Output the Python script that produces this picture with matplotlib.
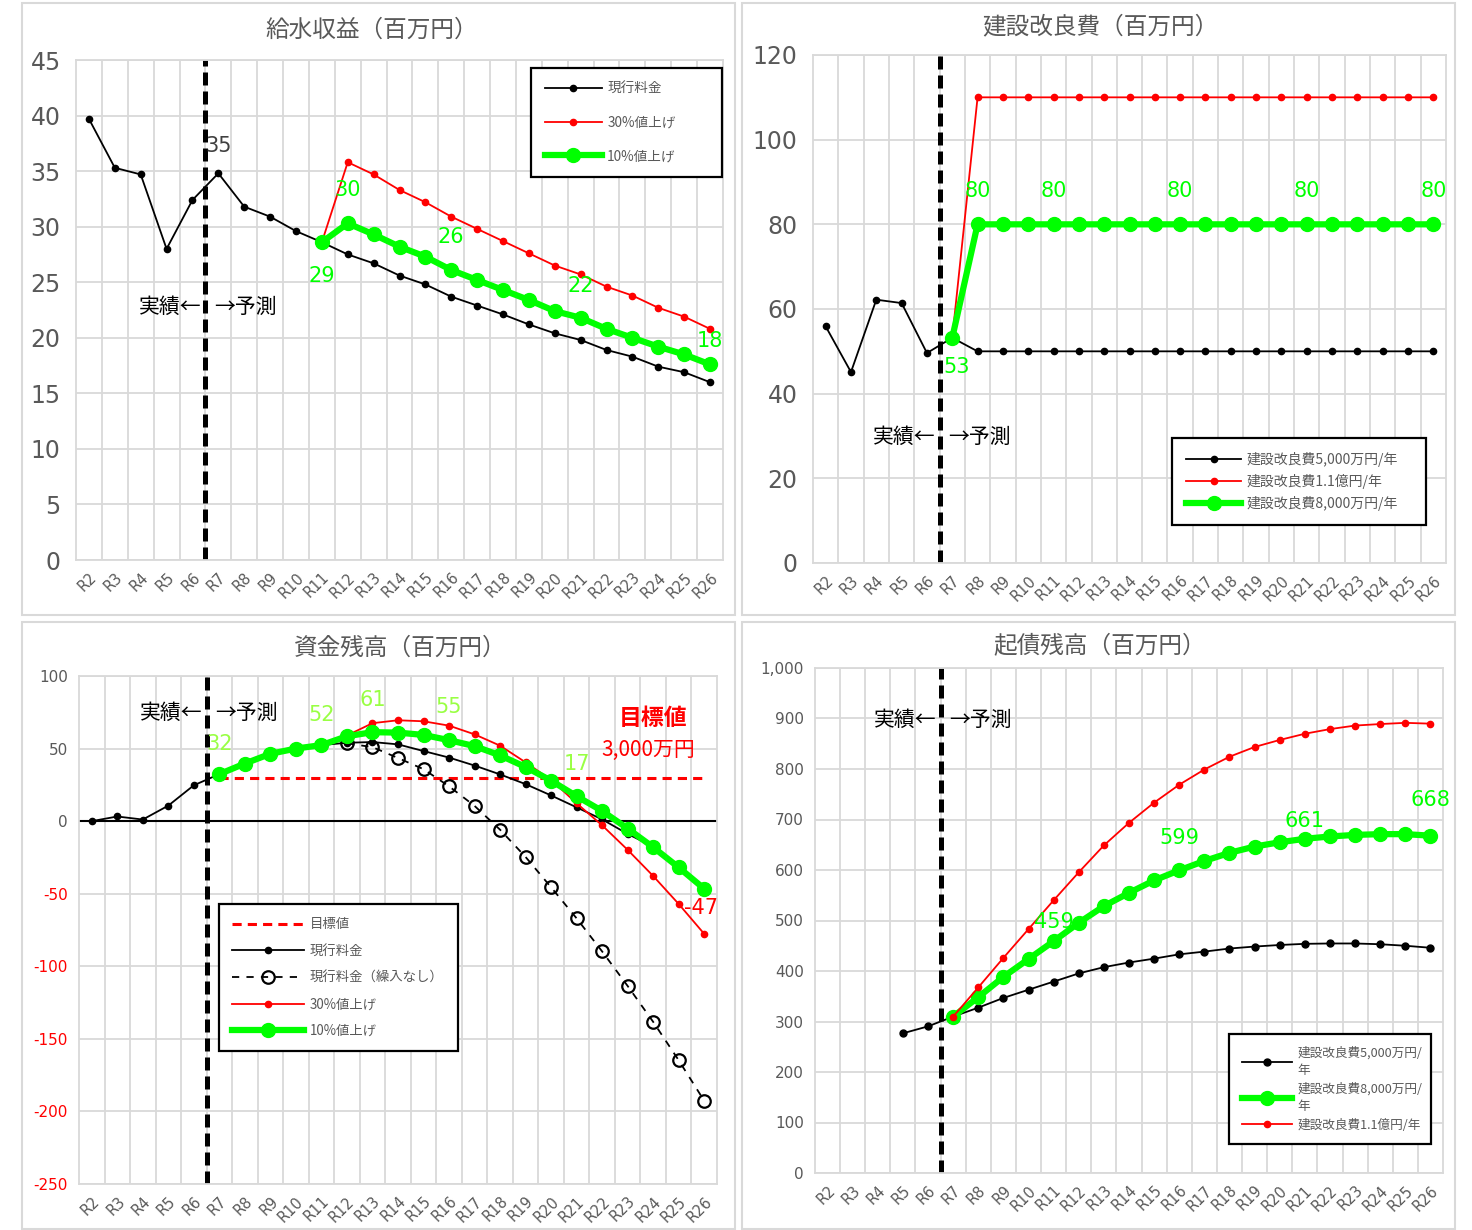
import numpy as np
import matplotlib
matplotlib.use('Agg')
import matplotlib.pyplot as plt
from matplotlib.patches import Rectangle
from matplotlib.ticker import FuncFormatter

plt.rcParams['font.family'] = ['Noto Sans CJK JP', 'DejaVu Sans']
plt.rcParams['axes.unicode_minus'] = False

####### input data ######
nan = np.nan
cats = ['R2', 'R3', 'R4', 'R5', 'R6', 'R7', 'R8', 'R9', 'R10', 'R11', 'R12', 'R13', 'R14',
        'R15', 'R16', 'R17', 'R18', 'R19', 'R20', 'R21', 'R22', 'R23', 'R24', 'R25', 'R26']

# 給水収益
rev_current = [39.7, 35.3, 34.7, 28.0, 32.4, 34.8, 31.8, 30.9, 29.6, 28.6, 27.5, 26.7, 25.6,
               24.8, 23.7, 22.9, 22.1, 21.2, 20.4, 19.8, 18.9, 18.3, 17.4, 16.9, 16.0]
rev_up30 = [nan, nan, nan, nan, nan, nan, nan, nan, nan, 28.6, 35.8, 34.7, 33.3,
            32.2, 30.9, 29.8, 28.7, 27.6, 26.5, 25.7, 24.6, 23.8, 22.7, 21.9, 20.8]
rev_up10 = [nan, nan, nan, nan, nan, nan, nan, nan, nan, 28.6, 30.3, 29.3, 28.2,
            27.3, 26.1, 25.2, 24.3, 23.4, 22.4, 21.8, 20.8, 20.0, 19.2, 18.5, 17.6]

# 建設改良費
cap_50m = [55.9, 45.1, 62.2, 61.4, 49.6, 53.2, 50, 50, 50, 50, 50, 50, 50,
           50, 50, 50, 50, 50, 50, 50, 50, 50, 50, 50, 50]
cap_110m = [nan, nan, nan, nan, nan, 53.2, 110, 110, 110, 110, 110, 110, 110,
            110, 110, 110, 110, 110, 110, 110, 110, 110, 110, 110, 110]
cap_80m = [nan, nan, nan, nan, nan, 53.2, 80, 80, 80, 80, 80, 80, 80,
           80, 80, 80, 80, 80, 80, 80, 80, 80, 80, 80, 80]

# 資金残高
fund_target = [nan, nan, nan, nan, nan, 30, 30, 30, 30, 30, 30, 30, 30,
               30, 30, 30, 30, 30, 30, 30, 30, 30, 30, 30, 30]
fund_current = [0, 3.2, 1.1, 10.7, 24.7, 32.4, 39.7, 46.4, 50.0, 52.4, 54.0, 54.5, 52.9,
                48.3, 43.8, 38.3, 32.2, 25.5, 17.7, 9.5, 1.2, -8.8, -17.6, -31.5, -46.0]
fund_noinflow = [nan, nan, nan, nan, nan, nan, nan, nan, nan, nan, 53.6, 51.0, 43.5,
                 35.8, 24.0, 10.5, -5.9, -24.7, -45.6, -67.0, -89.8, -113.6, -138.3, -164.8, -192.7]
fund_up30 = [nan, nan, nan, nan, nan, 32.4, 39.7, 46.4, 50.0, 52.4, 59.0, 67.5, 69.5,
             68.8, 65.8, 59.8, 52.0, 40.5, 28.4, 12.3, -2.9, -19.8, -37.8, -57.1, -77.7]
fund_up10 = [nan, nan, nan, nan, nan, 32.4, 39.7, 46.4, 50.0, 52.4, 58.5, 61.3, 61.0,
             59.4, 55.8, 51.7, 45.3, 37.3, 27.9, 17.2, 7.0, -5.1, -18.0, -31.9, -46.6]

# 起債残高
bond_50m = [nan, nan, nan, 276.6, 290.4, 309.7, 327.4, 346.7, 362.9, 379.0, 395.2, 407.6, 416.8,
            424.5, 433.0, 438.4, 444.5, 448.4, 451.5, 453.8, 454.5, 454.5, 453.0, 450.0, 446.0]
bond_80m = [nan, nan, nan, nan, nan, 309.7, 348.2, 388.3, 423.7, 459.0, 495.4, 528.5, 554.7,
            579.4, 599.4, 617.9, 634.0, 646.4, 654.9, 661.8, 666.4, 669.5, 671.0, 671.0, 668.0]
bond_110m = [nan, nan, nan, nan, nan, 309.7, 367.5, 426.0, 483.0, 540.0, 595.5, 648.7, 693.4,
             733.4, 768.9, 799.0, 824.3, 843.6, 857.5, 869.8, 879.0, 886.0, 889.0, 891.4, 889.8]
################### end input ###############

W, H = 1472, 1230
x = np.arange(len(cats))
GRID = '#D9D9D9'
TXT = '#595959'
GREEN = '#00FF00'
LBLFONT = ['Liberation Sans Narrow', 'DejaVu Sans']

fig = plt.figure(figsize=(W / 100, H / 100), dpi=100)


def px(l, t, r, b):
    return [l / W, 1 - b / H, (r - l) / W, (b - t) / H]


# chart area borders
for l, t, r, b in [(22, 3, 735, 615), (742, 3, 1455, 615), (22, 622, 735, 1229), (742, 622, 1455, 1229)]:
    fig.add_artist(Rectangle((l / W, 1 - b / H), (r - l) / W, (b - t) / H, transform=fig.transFigure,
                             fill=False, edgecolor=GRID, lw=1.5))


def setup(rect, ymin, ymax, ystep, ysize, ypad, title, title_xy):
    ax = fig.add_axes(px(*rect))
    ax.set_xlim(-0.5, len(cats) - 0.5)
    ax.set_ylim(ymin, ymax)
    ax.set_yticks(np.arange(ymin, ymax + ystep / 2, ystep))
    ax.set_xticks(x)
    ax.set_xticklabels(cats, rotation=45, ha='right', rotation_mode='anchor')
    ax.set_xticks(x[:-1] + 0.5, minor=True)
    ax.tick_params(axis='both', which='both', length=0)
    ax.tick_params(axis='x', labelsize=10.5, colors=TXT, pad=7)
    ax.tick_params(axis='y', labelsize=ysize, colors=TXT, pad=ypad)
    for t in ax.get_xticklabels() + ax.get_yticklabels():
        t.set_fontfamily('DejaVu Sans')
    ax.grid(axis='y', which='major', color=GRID, lw=1.3)
    ax.grid(axis='x', which='minor', color=GRID, lw=1.3)
    ax.set_axisbelow(True)
    for s in ax.spines.values():
        s.set_color(GRID)
        s.set_linewidth(1.3)
    ax.axvline(4.5, color='black', lw=3.6, ls=(0, (2.6, 1.2)), zorder=1.8)
    fig.text(title_xy[0] / W, 1 - title_xy[1] / H, title, ha='center', va='center',
             fontsize=17, color=TXT)
    return ax


def actual_forecast(ax, y, size=15):
    ax.text(4.35, y, '実績←', ha='right', va='center', fontsize=size, color='black')
    ax.text(4.85, y, '→予測', ha='left', va='center', fontsize=size, color='black')


def label(ax, i, v, txt, dy, color=GREEN, dx=0, size=15):
    ax.annotate(txt, (x[i], v), xytext=(dx, dy), textcoords='offset points',
                ha='center', va='center', fontsize=size, color=color, family=LBLFONT)


def legend(ax, handles, labels, box, fs, hl, spacing, linesp=1.2):
    l, t, r, b = box
    leg = ax.legend(handles, labels, loc='upper left',
                    bbox_to_anchor=(l / W, 1 - t / H - 0.01, (r - l) / W, 0.01),
                    bbox_transform=fig.transFigure, mode='expand', borderaxespad=0,
                    fontsize=fs, handlelength=hl, handletextpad=0.4, labelspacing=spacing,
                    borderpad=1.0, fancybox=False, framealpha=1, labelcolor=TXT)
    leg.get_frame().set_edgecolor('black')
    leg.get_frame().set_linewidth(1.6)
    for t in leg.get_texts():
        t.set_linespacing(linesp)
    return leg


# ---- 給水収益 ----
ax1 = setup((76, 60, 723, 560), 0, 45, 5, 17, 11, '給水収益（百万円）', (372, 30))
h1, = ax1.plot(x, rev_current, 'k-', marker='o', ms=4.5, lw=1.3)
h2, = ax1.plot(x, rev_up30, '-', color='red', marker='o', ms=4.5, lw=1.3)
h3, = ax1.plot(x, rev_up10, '-', color=GREEN, marker='o', ms=10, lw=4.5)
actual_forecast(ax1, 22.8)
label(ax1, 5, rev_current[5], '35', 20, color='#404040')
label(ax1, 9, rev_up10[9], '29', -24)
label(ax1, 10, rev_up10[10], '30', 24)
label(ax1, 14, rev_up10[14], '26', 24)
label(ax1, 19, rev_up10[19], '22', 23)
label(ax1, 24, rev_up10[24], '18', 17)
legend(ax1, [h1, h2, h3], ['現行料金', '30%値上げ', '10%値上げ'], (531, 68, 722, 168), 9.8, 4.2, 1.45)

# ---- 建設改良費 ----
ax2 = setup((813, 55, 1446, 563), 0, 120, 20, 17, 11, '建設改良費（百万円）', (1100, 27))
g1, = ax2.plot(x, cap_50m, 'k-', marker='o', ms=4.5, lw=1.3)
g2, = ax2.plot(x, cap_110m, '-', color='red', marker='o', ms=4.5, lw=1.3)
g3, = ax2.plot(x, cap_80m, '-', color=GREEN, marker='o', ms=10, lw=4.5)
actual_forecast(ax2, 29.8)
label(ax2, 5, cap_80m[5], '53', -21, dx=3)
for i in [6, 9, 14, 19, 24]:
    label(ax2, i, cap_80m[i], '80', 24)
legend(ax2, [g1, g2, g3], ['建設改良費5,000万円/年', '建設改良費1.1億円/年', '建設改良費8,000万円/年'],
       (1172, 438, 1426, 517), 10, 4.0, 0.5)

# ---- 資金残高 ----
ax3 = setup((79, 676, 717, 1184), -250, 100, 50, 11, 8, '資金残高（百万円）', (400, 648))
ax3.axhline(0, color='black', lw=1.5, zorder=1.5)
for t, v in zip(ax3.get_yticklabels(), ax3.get_yticks()):
    t.set_color('red' if v < 0 else TXT)
f0, = ax3.plot(x, fund_target, color='red', ls=(0, (3, 2)), lw=2.2)
f1, = ax3.plot(x, fund_current, 'k-', marker='o', ms=4.5, lw=1.3)
f2, = ax3.plot(x, fund_noinflow, color='black', ls=(0, (4, 4)), lw=1.3, marker='o', ms=9,
               mfc='none', mec='black', mew=1.6)
f3, = ax3.plot(x, fund_up30, '-', color='red', marker='o', ms=4.5, lw=1.3)
f4, = ax3.plot(x, fund_up10, '-', color=GREEN, marker='o', ms=10, lw=4.5)
actual_forecast(ax3, 74.5)
LG = '#99FF44'
label(ax3, 5, fund_up10[5], '32', 22, color=LG)
label(ax3, 9, fund_up10[9], '52', 22, color=LG)
label(ax3, 11, fund_up10[11], '61', 23, color=LG)
label(ax3, 14, fund_up10[14], '55', 24, color=LG)
label(ax3, 19, fund_up10[19], '17', 23, color=LG)
label(ax3, 24, fund_up10[24], '-47', -14, color='red', dx=-2)
ax3.text(22.0, 71, '目標値', ha='center', va='center', fontsize=16.5, color='red', fontweight='bold')
ax3.text(21.8, 49, '3,000万円', ha='center', va='center', fontsize=15, color='red')
legend(ax3, [f0, f1, f2, f3, f4], ['目標値', '現行料金', '現行料金（繰入なし）', '30%値上げ', '10%値上げ'],
       (219, 904, 458, 1050), 9.6, 5.4, 0.95)

# ---- 起債残高 ----
ax4 = setup((815, 668, 1443, 1173), 0, 1000, 100, 11, 8, '起債残高（百万円）', (1100, 647))
ax4.yaxis.set_major_formatter(FuncFormatter(lambda v, p: f'{int(v):,}'))
for t in ax4.get_yticklabels():
    t.set_fontfamily('DejaVu Sans')
b1, = ax4.plot(x, bond_50m, 'k-', marker='o', ms=5, lw=1.3)
b2, = ax4.plot(x, bond_80m, '-', color=GREEN, marker='o', ms=10, lw=4.5)
b3, = ax4.plot(x, bond_110m, '-', color='red', marker='o', ms=4.5, lw=1.3)
actual_forecast(ax4, 897)
label(ax4, 9, bond_80m[9], '459', 14)
label(ax4, 14, bond_80m[14], '599', 23)
label(ax4, 19, bond_80m[19], '661', 13)
label(ax4, 24, bond_80m[24], '668', 26)
legend(ax4, [b1, b2, b3], ['建設改良費5,000万円/\n年', '建設改良費8,000万円/\n年', '建設改良費1.1億円/年'],
       (1229, 1034, 1431, 1146), 9.1, 4.0, 0.45, linesp=1.4)

fig.savefig('out.png', dpi=100)
